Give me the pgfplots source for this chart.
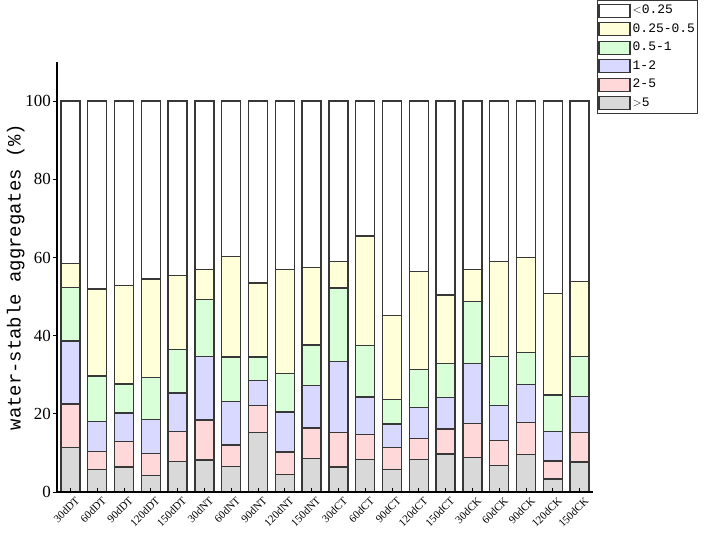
\documentclass[border=0pt]{standalone}
\usepackage{fontspec}
\setmainfont{Liberation Serif}
\newfontfamily\monofont{Liberation Mono}
\usepackage{pgfplots}
\usepackage{pgfplotstable}
\pgfplotsset{compat=1.18}
\definecolor{cg}{RGB}{217,217,217}
\definecolor{cp}{RGB}{255,217,217}
\definecolor{cb}{RGB}{217,217,255}
\definecolor{cgr}{RGB}{217,255,217}
\definecolor{cy}{RGB}{255,255,217}
\definecolor{edge}{RGB}{55,55,55}
\pgfplotstableread{
x g p b gr y w
0 11.4 11.1 16.1 13.7 6.1 41.6
1 5.7 4.6 7.8 11.6 22.2 48.1
2 6.4 6.6 7.2 7.4 25.2 47.2
3 4.2 5.6 8.8 10.7 25.2 45.5
4 7.8 7.7 9.8 11.2 18.8 44.7
5 8.2 10.2 16.3 14.5 7.8 43.0
6 6.5 5.5 11.1 11.4 25.8 39.7
7 15.2 6.9 6.5 5.9 19.0 46.5
8 4.5 5.7 10.3 9.8 26.6 43.1
9 8.6 7.8 10.9 10.3 19.9 42.5
10 6.4 8.9 18.1 18.8 6.8 41.0
11 8.4 6.3 9.6 13.2 28.0 34.5
12 5.8 5.6 6.0 6.2 21.5 54.9
13 8.4 5.2 8.1 9.7 25.0 43.6
14 9.7 6.4 8.1 8.7 17.5 49.6
15 8.8 8.7 15.3 15.9 8.2 43.1
16 6.8 6.3 9.1 12.5 24.2 41.1
17 9.6 8.2 9.7 8.2 24.3 40.0
18 3.3 4.6 7.5 9.4 25.9 49.3
19 7.7 7.6 9.1 10.2 19.2 46.2
}\datatable
\begin{document}
\begin{tikzpicture}
\path[use as bounding box] (0,0) rectangle (706bp,533bp);
\begin{axis}[
  at={(57bp,41bp)}, anchor=south west,
  scale only axis, width=536bp, height=430bp,
  ybar stacked, bar width=19bp,
  xmin=-0.5, xmax=19.5, ymin=0, ymax=110,
  axis on top,
  axis lines=left, axis line style={-, line width=1.3bp, black},
  xtick=data,
  xticklabels={30dDT,60dDT,90dDT,120dDT,150dDT,30dNT,60dNT,90dNT,120dNT,150dNT,30dCT,60dCT,90dCT,120dCT,150dCT,30dCK,60dCK,90dCK,120dCK,150dCK},
  ytick={0,20,40,60,80,100},
  tick align=outside,
  major tick length=4bp,
  tick style={black, line width=1bp},
  xtick style={yshift=4bp},
  /pgf/number format/assume math mode=true,
  yticklabel style={font=\fontsize{17}{17}\selectfont, inner sep=2bp},
  xticklabel style={font=\fontsize{11}{11}\selectfont, rotate=45, anchor=north east, inner sep=1bp, xshift=4bp, yshift=-2bp},
  ylabel={water-stable aggregates (\%)},
  ylabel style={font=\monofont\fontsize{19}{19}\selectfont, at={(axis description cs:-0.077,0.5)}, anchor=center, rotate=0},
  every axis plot/.append style={draw=edge, line width=1.3bp},
  reverse legend,
  legend image code/.code={\draw[#1] (0bp,-6.5bp) rectangle (31bp,6.5bp);},
  legend cell align=left,
  legend style={at={(rel axis cs:1.0075,1.144)}, anchor=north west, draw=edge, line width=0.8bp,
    font=\monofont\fontsize{13}{13}\selectfont, row sep=0bp, inner sep=1bp,
    nodes={inner ysep=2.75bp, text height=9.5bp, text depth=3.5bp}},
]
\addplot[fill=cg] table[x=x,y=g]{\datatable};
\addplot[fill=cp] table[x=x,y=p]{\datatable};
\addplot[fill=cb] table[x=x,y=b]{\datatable};
\addplot[fill=cgr] table[x=x,y=gr]{\datatable};
\addplot[fill=cy] table[x=x,y=y]{\datatable};
\addplot[fill=white] table[x=x,y=w]{\datatable};
\legend{$>$5,2-5,1-2,0.5-1,0.25-0.5,$<$0.25}
\end{axis}
\end{tikzpicture}
\end{document}
